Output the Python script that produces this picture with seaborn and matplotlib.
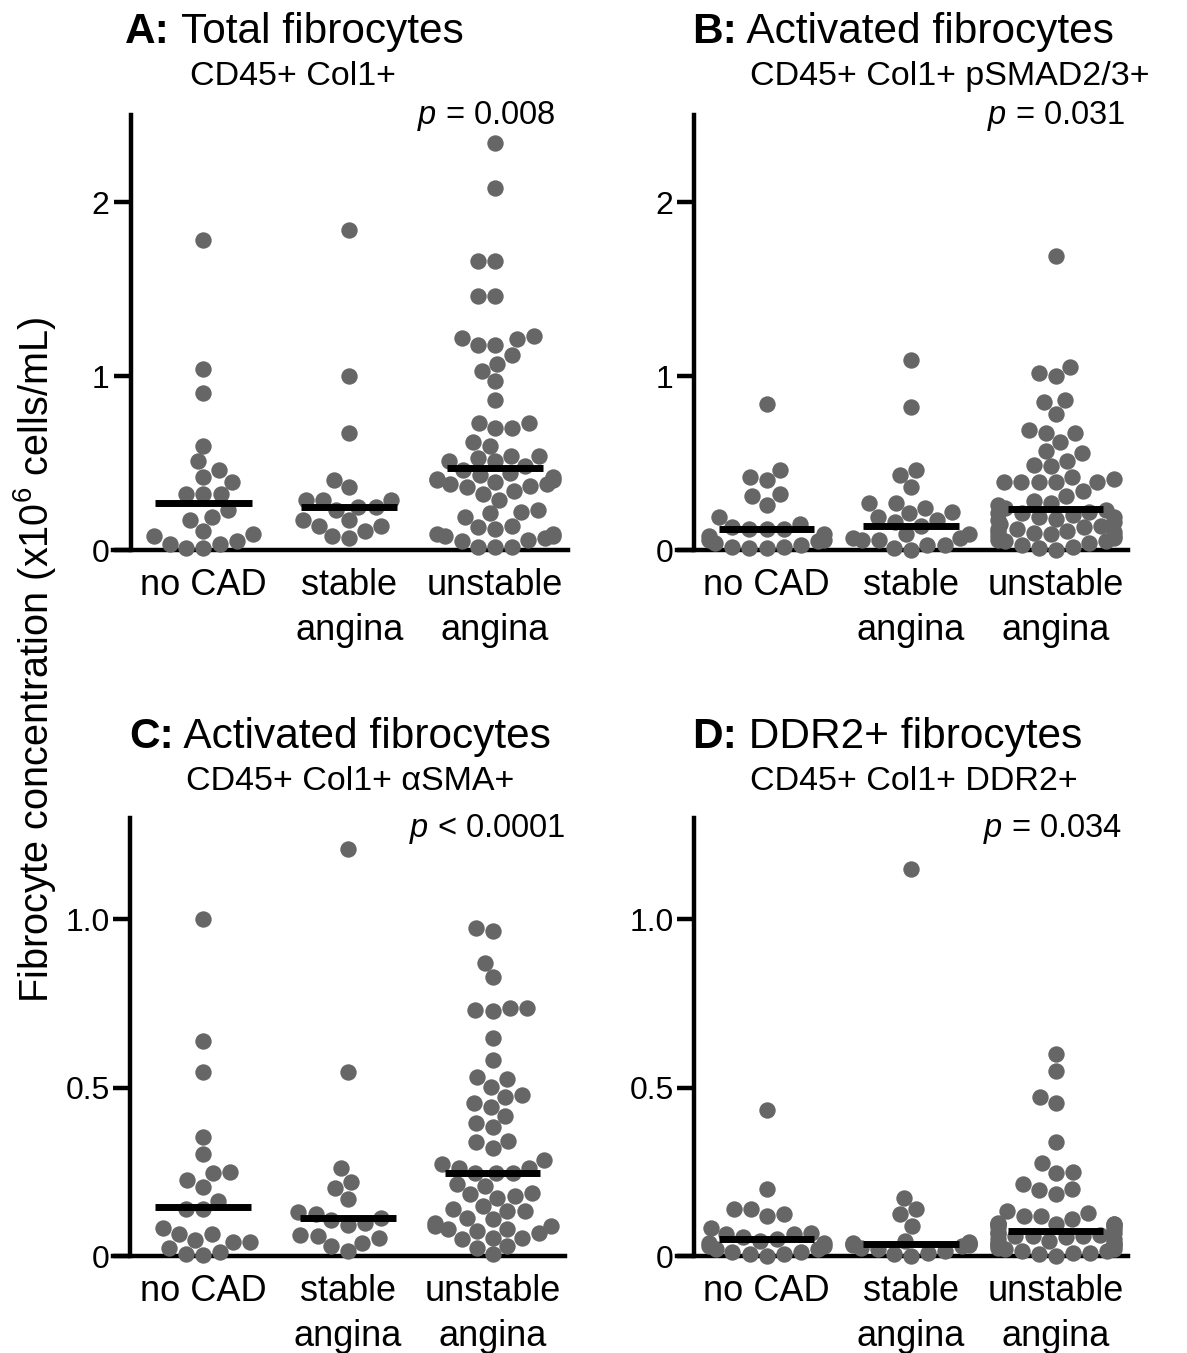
import matplotlib
matplotlib.use("Agg")
import matplotlib.pyplot as plt
import pandas as pd
import seaborn as sns

groups = ["no CAD", "stable\nangina", "unstable\nangina"]

# A: total fibrocytes (x10^6 cells/mL)
a_no_cad = [1.78, 1.04, 0.90, 0.60, 0.51, 0.46, 0.42, 0.39, 0.32, 0.32, 0.32,
            0.23, 0.19, 0.17, 0.11, 0.09, 0.08, 0.05, 0.035, 0.035, 0.01, 0.01]
a_stable = [1.84, 1.00, 0.67, 0.40, 0.36, 0.29, 0.29, 0.29, 0.25, 0.25, 0.23,
            0.17, 0.17, 0.14, 0.14, 0.11, 0.08, 0.07]
a_unstable = [2.34, 2.08, 1.66, 1.66, 1.46, 1.46, 1.23, 1.22, 1.21, 1.18, 1.18,
              1.12, 1.07, 1.03, 0.97, 0.86, 0.73, 0.73, 0.70, 0.70, 0.62, 0.60,
              0.54, 0.54, 0.53, 0.51, 0.51, 0.48, 0.46, 0.44, 0.43, 0.42, 0.41,
              0.40, 0.40, 0.39, 0.38, 0.38, 0.37, 0.36, 0.34, 0.32, 0.29, 0.23,
              0.22, 0.21, 0.19, 0.14, 0.13, 0.12, 0.09, 0.09, 0.08, 0.08, 0.07,
              0.06, 0.05, 0.02, 0.02, 0.02]

# B: activated fibrocytes, pSMAD2/3+
b_no_cad = [0.84, 0.46, 0.42, 0.40, 0.32, 0.31, 0.26, 0.19, 0.15, 0.13, 0.12,
            0.12, 0.12, 0.09, 0.08, 0.06, 0.06, 0.05, 0.04, 0.03, 0.02, 0.02,
            0.01, 0.01]
b_stable = [1.09, 0.82, 0.46, 0.43, 0.36, 0.27, 0.27, 0.24, 0.22, 0.21, 0.19,
            0.17, 0.16, 0.14, 0.09, 0.09, 0.07, 0.07, 0.06, 0.06, 0.03, 0.03,
            0.01, 0.0]
b_unstable = [1.69, 1.05, 1.02, 1.00, 0.86, 0.85, 0.78, 0.69, 0.67, 0.67, 0.62,
              0.57, 0.56, 0.51, 0.49, 0.48, 0.42, 0.41, 0.39, 0.39, 0.39, 0.39,
              0.39, 0.34, 0.31, 0.28, 0.27, 0.26, 0.24, 0.23, 0.22, 0.21, 0.21,
              0.20, 0.19, 0.19, 0.18, 0.17, 0.16, 0.15, 0.14, 0.13, 0.12, 0.12,
              0.11, 0.105, 0.105, 0.10, 0.09, 0.08, 0.08, 0.07, 0.06, 0.05, 0.05,
              0.04, 0.03, 0.02, 0.01, 0.0]

# C: activated fibrocytes, aSMA+
c_no_cad = [1.00, 0.637, 0.545, 0.353, 0.304, 0.248, 0.245, 0.226, 0.206, 0.163,
            0.14, 0.14, 0.082, 0.064, 0.064, 0.047, 0.043, 0.043, 0.023, 0.013,
            0.007, 0.003]
c_stable = [1.208, 0.545, 0.262, 0.221, 0.201, 0.168, 0.132, 0.126, 0.114, 0.106,
            0.099, 0.092, 0.062, 0.059, 0.054, 0.04, 0.03, 0.015]
c_unstable = [0.975, 0.965, 0.871, 0.827, 0.735, 0.735, 0.731, 0.728, 0.647,
              0.581, 0.530, 0.525, 0.503, 0.478, 0.472, 0.455, 0.443, 0.416,
              0.396, 0.383, 0.340, 0.337, 0.320, 0.284, 0.272, 0.262, 0.260,
              0.247, 0.247, 0.247, 0.213, 0.208, 0.188, 0.183, 0.178, 0.173,
              0.149, 0.139, 0.134, 0.134, 0.114, 0.109, 0.099, 0.089, 0.089,
              0.079, 0.079, 0.074, 0.069, 0.054, 0.054, 0.05, 0.03, 0.025, 0.005]

# D: DDR2+ fibrocytes
d_no_cad = [0.433, 0.198, 0.139, 0.139, 0.124, 0.119, 0.084, 0.069, 0.064, 0.064,
            0.055, 0.05, 0.045, 0.04, 0.04, 0.03, 0.03, 0.02, 0.02, 0.012, 0.012,
            0.005, 0.005, 0.0]
d_stable = [1.149, 0.173, 0.139, 0.124, 0.089, 0.045, 0.042, 0.04, 0.038, 0.036,
            0.035, 0.034, 0.033, 0.03, 0.025, 0.02, 0.015, 0.01, 0.005, 0.0]
d_unstable = [0.599, 0.548, 0.472, 0.455, 0.337, 0.277, 0.248, 0.246, 0.213,
              0.198, 0.195, 0.183, 0.134, 0.129, 0.119, 0.119, 0.109, 0.099,
              0.095, 0.095, 0.095, 0.095, 0.095, 0.09, 0.085, 0.08, 0.07, 0.068,
              0.065, 0.062, 0.06, 0.058, 0.055, 0.05, 0.05, 0.045, 0.04, 0.04,
              0.035, 0.035, 0.03, 0.03, 0.025, 0.02, 0.02, 0.015, 0.015, 0.01,
              0.01, 0.005, 0.0, 0.06]

# medians as drawn in the figure
a_medians = [0.27, 0.25, 0.47]
b_medians = [0.12, 0.14, 0.235]
c_medians = [0.145, 0.112, 0.245]
d_medians = [0.05, 0.035, 0.075]

letters = ["A:", "B:", "C:", "D:"]
titles = ["Total fibrocytes", "Activated fibrocytes", "Activated fibrocytes",
          "DDR2+ fibrocytes"]
subtitles = ["CD45+ Col1+", "CD45+ Col1+ pSMAD2/3+", "CD45+ Col1+ \u03b1SMA+",
             "CD45+ Col1+ DDR2+"]
p_texts = ["$p$ = 0.008", "$p$ = 0.031", "$p$ < 0.0001", "$p$ = 0.034"]
ylabel = "Fibrocyte concentration (x10$^{6}$ cells/mL)"

sns.set_style("ticks")
plt.rcParams["font.family"] = ["Liberation Sans", "DejaVu Sans"]
plt.rcParams["mathtext.fontset"] = "custom"
plt.rcParams["mathtext.rm"] = "Liberation Sans"
plt.rcParams["mathtext.it"] = "Liberation Sans:italic"
plt.rcParams["mathtext.bf"] = "Liberation Sans:bold"
for key in ["text.color", "axes.labelcolor", "xtick.color", "ytick.color",
            "axes.edgecolor"]:
    plt.rcParams[key] = "black"

frames = []
for panel, series in zip("ABCD", [(a_no_cad, a_stable, a_unstable),
                                  (b_no_cad, b_stable, b_unstable),
                                  (c_no_cad, c_stable, c_unstable),
                                  (d_no_cad, d_stable, d_unstable)]):
    for group, values in zip(groups, series):
        frames.append(pd.DataFrame({"panel": panel, "group": group, "value": values}))
df = pd.concat(frames, ignore_index=True)
medians = {"A": a_medians, "B": b_medians, "C": c_medians, "D": d_medians}

W, H = 1187, 1353
fig = plt.figure(figsize=(W / 100, H / 100), dpi=100)

# axes boxes in pixels: left, top, right, bottom
boxes = {"A": (113, 115, 568, 550), "B": (677, 115, 1128, 550),
         "C": (113, 818, 565, 1256), "D": (677, 818, 1128, 1256)}
title_pos = {"A": (125, 43), "B": (692, 43), "C": (129, 748), "D": (692, 748)}
sub_pos = {"A": (190, 85), "B": (750, 85), "C": (186, 790), "D": (750, 790)}
p_pos = {"A": (555, 124), "B": (1125, 124), "C": (565, 837), "D": (1122, 837)}

dot_color = "#666666"

for i, panel in enumerate("ABCD"):
    l, t, r, b = boxes[panel]
    ax = fig.add_axes([l / W, 1 - b / H, (r - l) / W, (b - t) / H])
    sub = df[df["panel"] == panel]
    sns.swarmplot(data=sub, x="group", y="value", order=groups, color=dot_color,
                  size=11.8, linewidth=0, ax=ax, warn_thresh=1)
    for coll in ax.collections:
        coll.set_clip_on(False)
    ax.hlines(medians[panel], [k - 0.33 for k in range(3)],
              [k + 0.33 for k in range(3)], colors="black", linewidth=5, zorder=5)

    ax.set_xlim(-0.62, 2.5)
    if panel in "AB":
        ax.set_ylim(0, 2.5)
        ax.set_yticks([0, 1, 2])
        ax.set_yticklabels(["0", "1", "2"])
    else:
        ax.set_ylim(0, 1.3)
        ax.set_yticks([0, 0.5, 1.0])
        ax.set_yticklabels(["0", "0.5", "1.0"])
    ax.set_xlabel("")
    ax.set_ylabel("")
    ax.set_xticks([0, 1, 2])
    ax.set_xticklabels(groups, fontsize=26, linespacing=1.35)
    ax.tick_params(axis="x", length=0, pad=13)
    ax.tick_params(axis="y", length=12, width=3.2, labelsize=23, pad=3)
    ax.spines["top"].set_visible(False)
    ax.spines["right"].set_visible(False)
    ax.spines["left"].set_position(("data", -0.5))
    ax.spines["left"].set_linewidth(3.2)
    ax.spines["bottom"].set_linewidth(3.2)

    tx, ty = title_pos[panel]
    bold = fig.text(tx / W, 1 - ty / H, letters[i], fontsize=30.5,
                    fontweight="bold", va="baseline", ha="left")
    fig.canvas.draw()
    ext = bold.get_window_extent()
    fig.text(ext.x1 / W, 1 - ty / H, " " + titles[i], fontsize=30.5,
             va="baseline", ha="left")
    sx, sy = sub_pos[panel]
    fig.text(sx / W, 1 - sy / H, subtitles[i], fontsize=24.5,
             va="baseline", ha="left")
    px, py = p_pos[panel]
    fig.text(px / W, 1 - py / H, p_texts[i], fontsize=23.5,
             va="baseline", ha="right")

fig.text(35 / W, 1 - 660 / H, ylabel, fontsize=28.5, rotation=90,
         va="center", ha="center")

fig.savefig("out.png", dpi=100)
plt.close(fig)
